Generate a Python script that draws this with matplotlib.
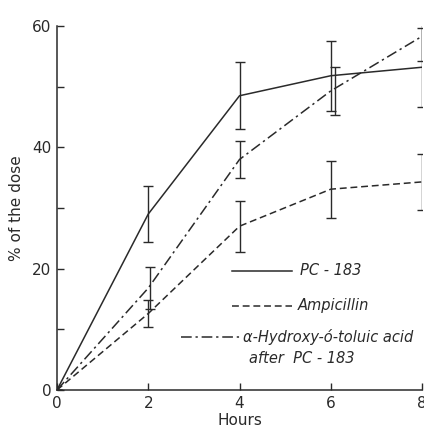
import matplotlib
matplotlib.use("Agg")
import matplotlib.pyplot as plt
from matplotlib.lines import Line2D

hours = [0, 2, 4, 6, 8]
pc183 = [0, 29.0, 48.5, 51.8, 53.2]
pc183_err = [0, 4.6, 5.5, 5.8, 6.5]
ampicillin = [0, 12.6, 27.0, 33.1, 34.3]
ampicillin_err = [0, 2.2, 4.2, 4.7, 4.6]
hydroxy = [0, 16.8, 38.0, 49.3, 58.3]
hydroxy_err = [0, 3.5, 3.0, 4.0, 4.0]

col = "#2a2a2a"
plt.rcParams['font.family'] = ['DejaVu Sans']
fig = plt.figure(figsize=(4.24, 4.33), dpi=100)
ax = fig.add_axes([0.1344, 0.0993, 0.861, 0.8407])

kw = dict(color=col, lw=1.1, capsize=3.5, elinewidth=1.0, capthick=1.0, clip_on=True)
ax.errorbar(hours, pc183, yerr=pc183_err, ls='-', **kw)
ax.errorbar(hours, ampicillin, yerr=ampicillin_err, ls=(0, (4.5, 2.5)), **kw)
hx_off = [0, 0.03, 0, 0.1, 0]
ax.plot(hours, hydroxy, color=col, lw=1.1, ls=(0, (7, 2.5, 1.5, 2.5)))
ax.errorbar([h + o for h, o in zip(hours, hx_off)], hydroxy, yerr=hydroxy_err,
            ls='none', **kw)

ax.set_xlim(0, 8)
ax.set_ylim(0, 60)
ax.set_xticks([0, 2, 4, 6, 8])
ax.set_yticks([0, 20, 40, 60])
ax.set_yticks([10, 30, 50], minor=True)
ax.tick_params(direction='in', length=5, width=1, color=col, labelsize=11, labelcolor=col, pad=4)
ax.tick_params(which='minor', direction='in', length=5, width=1, color=col)
for s in ['top', 'right']:
    ax.spines[s].set_visible(False)
for s in ['left', 'bottom']:
    ax.spines[s].set_color(col)
    ax.spines[s].set_linewidth(1.1)

ax.set_xlabel('Hours', fontsize=11, color=col, labelpad=2)
ax.set_ylabel('% of the dose', fontsize=11, color=col, labelpad=6)

# legend
def ax_xy(px, py):
    return ((px - 57) / 365.0, (390 - py) / 364.0)

def seg(x0, x1, y, ls):
    a = ax_xy(x0, y); b = ax_xy(x1, y)
    ax.add_line(Line2D([a[0], b[0]], [a[1], b[1]], transform=ax.transAxes,
                       color=col, lw=1.1, ls=ls))

seg(232, 292, 271, '-')
seg(232, 292, 306, (0, (4.5, 2.5)))
seg(181, 240, 337, (0, (7, 2.5, 1.5, 2.5)))
tk = dict(transform=ax.transAxes, fontsize=10.5, style='italic', color=col, va='center')
ax.text(*ax_xy(300, 271), 'PC - 183', **tk)
ax.text(*ax_xy(298, 306), 'Ampicillin', **tk)
ax.text(*ax_xy(243, 337), 'α-Hydroxy-ó-toluic acid', **tk)
ax.text(*ax_xy(249, 358), 'after  PC - 183', **tk)

fig.savefig('out.png', dpi=100)
